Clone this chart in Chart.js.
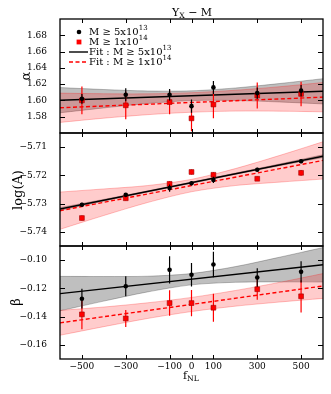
<!DOCTYPE html>
<html lang="es">
<head>
<meta charset="utf-8">
<title>Yx - M</title>
<script src="https://cdn.jsdelivr.net/npm/chart.js@4.4.1/dist/chart.umd.min.js"></script>
<style>
  body { margin: 0; background: #fff; }
  #lienzo { position: relative; width: 331px; height: 394px; overflow: hidden; }
  canvas { position: absolute; left: 0; }
</style>
</head>
<body>
<div id="lienzo">
  <canvas id="panel-alfa" width="331" height="145" style="top:0"></canvas>
  <canvas id="panel-loga" width="331" height="137" style="top:121px"></canvas>
  <canvas id="panel-beta" width="331" height="160" style="top:234px"></canvas>
</div>
<script>
const FUENTE = '"DejaVu Serif", "Liberation Serif", serif';
const NEGRO = "#000000";
const ROJO = "#ff0000";
const GRIS_BANDA = "rgba(0,0,0,0.25)";
const ROSA_BANDA = "rgba(255,0,0,0.2)";

// eje x compartido
const fNL = [-500, -300, -100, 0, 100, 300, 500];
const ticksX = [-500, -300, -100, 0, 100, 300, 500];
const xAjuste = [-600, 600];
const xBanda = [-600, -400, -200, 0, 200, 400, 600];

// panel alfa
const alfaNegro = [1.602, 1.607, 1.607, 1.593, 1.616, 1.609, 1.612];
const alfaNegroErr = [0.006, 0.008, 0.007, 0.008, 0.008, 0.007, 0.007];
const alfaRojo = [1.600, 1.594, 1.598, 1.578, 1.595, 1.606, 1.608];
const alfaRojoErr = [0.017, 0.017, 0.015, 0.016, 0.017, 0.016, 0.015];
const alfaAjusteNegro = [1.6003, 1.6112];
const alfaAjusteRojo = [1.591, 1.604];
const alfaBandaNegroAlta = [1.6158, 1.6134, 1.6116, 1.6118, 1.6153, 1.6207, 1.6267];
const alfaBandaNegroBaja = [1.5848, 1.5908, 1.5962, 1.5998, 1.5999, 1.5981, 1.5957];
const alfaBandaRojoAlta = [1.6090, 1.6082, 1.6081, 1.6095, 1.6125, 1.6168, 1.6220];
const alfaBandaRojoBaja = [1.5730, 1.5782, 1.5825, 1.5855, 1.5869, 1.5868, 1.5860];
const ticksAlfa = [1.58, 1.60, 1.62, 1.64, 1.66, 1.68];

// panel log(A)
const logANegro = [-5.7304, -5.7269, -5.7245, -5.7228, -5.7216, -5.7180, -5.7150];
const logANegroErr = [0.0007, 0.0007, 0.0013, 0.0008, 0.0011, 0.0007, 0.0007];
const logARojo = [-5.7351, -5.7281, -5.7230, -5.7188, -5.7198, -5.7212, -5.7191];
const logARojoErr = [0.0009, 0.0008, 0.0009, 0.0009, 0.0009, 0.0008, 0.0010];
const logAAjusteNegro = [-5.7319, -5.7132];
const logAAjusteRojo = [-5.7325, -5.7147];
const logABandaNegroAlta = [-5.7314, -5.7285, -5.7255, -5.7224, -5.7192, -5.7160, -5.7127];
const logABandaNegroBaja = [-5.7324, -5.7291, -5.7259, -5.7228, -5.7196, -5.7166, -5.7137];
const logABandaRojoAlta = [-5.7259, -5.7248, -5.7236, -5.7214, -5.7176, -5.7130, -5.7081];
const logABandaRojoBaja = [-5.7391, -5.7342, -5.7296, -5.7258, -5.7236, -5.7224, -5.7213];
const ticksLogA = [-5.71, -5.72, -5.73, -5.74];

// panel beta
const betaNegro = [-0.1273, -0.1185, -0.1069, -0.1104, -0.1031, -0.1123, -0.1083];
const betaNegroErr = [0.0070, 0.0070, 0.0097, 0.0083, 0.0090, 0.0066, 0.0075];
const betaRojo = [-0.1384, -0.1413, -0.1304, -0.1304, -0.1337, -0.1206, -0.1256];
const betaRojoErr = [0.0106, 0.0060, 0.0090, 0.0093, 0.0099, 0.0075, 0.0114];
const betaAjusteNegro = [-0.1237, -0.1033];
const betaAjusteRojo = [-0.1444, -0.1183];
const betaBandaNegroAlta = [-0.1115, -0.1116, -0.1114, -0.1095, -0.1046, -0.0980, -0.0911];
const betaBandaNegroBaja = [-0.1359, -0.1290, -0.1225, -0.1175, -0.1157, -0.1154, -0.1155];
const betaBandaRojoAlta = [-0.1356, -0.1332, -0.1302, -0.1264, -0.1215, -0.1158, -0.1095];
const betaBandaRojoBaja = [-0.1532, -0.1471, -0.1413, -0.1364, -0.1326, -0.1297, -0.1271];
const ticksBeta = [-0.10, -0.12, -0.14, -0.16];

const formatearTick = (decimales) => (valor) =>
  (valor < 0 ? "\u2212" : "") + Math.abs(valor).toFixed(decimales);

const puntos = (xs, ys) => xs.map((x, i) => ({ x, y: ys[i] }));

const barrasError = (valores, errores) =>
  fNL.flatMap((x, i) => [
    { x, y: valores[i] - errores[i] },
    { x, y: valores[i] + errores[i] },
    { x, y: null },
  ]);

// texto con sub/superindices: partes = [{ t, sup }, { t, sub }]
const medirRico = (ctx, partes, tam) =>
  partes.reduce((acc, p) => {
    ctx.font = `${p.sup || p.sub ? tam * 0.7 : tam}px ${FUENTE}`;
    return acc + ctx.measureText(p.t).width;
  }, 0);

const escribirRico = (ctx, partes, x, y, tam, centrado = false) => {
  let cx = centrado ? x - medirRico(ctx, partes, tam) / 2 : x;
  ctx.textAlign = "left";
  ctx.textBaseline = "middle";
  partes.forEach((p) => {
    const t = p.sup || p.sub ? tam * 0.7 : tam;
    const dy = p.sup ? -tam * 0.4 : p.sub ? tam * 0.3 : 0;
    ctx.font = `${t}px ${FUENTE}`;
    ctx.fillText(p.t, cx, y + dy);
    cx += ctx.measureText(p.t).width;
  });
};

const etiquetaVertical = (ctx, texto, x, y, tam) => {
  ctx.save();
  ctx.translate(x, y);
  ctx.rotate(-Math.PI / 2);
  ctx.font = `${tam}px ${FUENTE}`;
  ctx.fillStyle = NEGRO;
  ctx.textAlign = "center";
  ctx.textBaseline = "middle";
  ctx.fillText(texto, 0, 0);
  ctx.restore();
};

const pluginMarco = (ticksY) => ({
  id: "marco",
  afterDatasetsDraw(chart) {
    const { ctx, chartArea: a, scales } = chart;
    ctx.save();
    ctx.strokeStyle = NEGRO;
    ctx.lineWidth = 1;
    ctx.beginPath();
    ticksX.forEach((v) => {
      const px = Math.round(scales.x.getPixelForValue(v)) + 0.5;
      ctx.moveTo(px, a.top);
      ctx.lineTo(px, a.top + 4);
      ctx.moveTo(px, a.bottom);
      ctx.lineTo(px, a.bottom - 4);
    });
    ticksY.forEach((v) => {
      const py = Math.round(scales.y.getPixelForValue(v)) + 0.5;
      ctx.moveTo(a.left, py);
      ctx.lineTo(a.left + 5, py);
      ctx.moveTo(a.right, py);
      ctx.lineTo(a.right - 5, py);
    });
    ctx.stroke();
    ctx.lineWidth = 1.3;
    ctx.strokeRect(a.left, a.top, a.right - a.left, a.bottom - a.top);
    ctx.restore();
  },
});

// etiquetas del eje x bajo el panel inferior, en la posicion que da la escala
const etiquetasEjeX = (ctx, chart) => {
  const { chartArea: a, scales } = chart;
  const formato = formatearTick(0);
  ctx.save();
  ctx.fillStyle = NEGRO;
  ctx.font = `9px ${FUENTE}`;
  ctx.textAlign = "center";
  ctx.textBaseline = "middle";
  ticksX.forEach((v) => {
    ctx.fillText(formato(v), scales.x.getPixelForValue(v), a.bottom + 8);
  });
  ctx.restore();
};

const fuenteTicks = { family: FUENTE, size: 9 };

const crearPanel = ({
  id, negro, errNegro, rojo, errRojo, ajusteNegro, ajusteRojo,
  bandaNegro, bandaRojo, min, max, ticksY, decimales, relleno, textos,
}) => {
  const lienzo = document.getElementById(id);
  const banda = (valores, color, borde, fill, order) => ({
    data: puntos(xBanda, valores),
    fill,
    backgroundColor: color,
    borderColor: borde,
    borderWidth: 0.8,
    pointRadius: 0,
    tension: 0.3,
    order,
  });
  return new Chart(lienzo, {
    type: "line",
    data: {
      datasets: [
        banda(bandaNegro[0], GRIS_BANDA, "rgba(0,0,0,0.3)", "+1", 10),
        banda(bandaNegro[1], GRIS_BANDA, "rgba(0,0,0,0.3)", false, 10),
        banda(bandaRojo[0], ROSA_BANDA, "rgba(255,0,0,0.3)", "+1", 9),
        banda(bandaRojo[1], ROSA_BANDA, "rgba(255,0,0,0.3)", false, 9),
        {
          data: puntos(xAjuste, ajusteRojo),
          borderColor: ROJO,
          borderWidth: 1.4,
          borderDash: [4, 2.5],
          pointRadius: 0,
          fill: false,
          order: 6,
        },
        {
          data: puntos(xAjuste, ajusteNegro),
          borderColor: NEGRO,
          borderWidth: 1.4,
          pointRadius: 0,
          fill: false,
          order: 5,
        },
        {
          data: barrasError(rojo, errRojo),
          borderColor: ROJO,
          borderWidth: 1.2,
          pointRadius: 0,
          spanGaps: false,
          fill: false,
          order: 4,
        },
        {
          data: puntos(fNL, rojo),
          showLine: false,
          pointStyle: "rect",
          pointRadius: 3.4,
          pointBackgroundColor: ROJO,
          pointBorderColor: "#a00000",
          pointBorderWidth: 0.6,
          order: 3,
        },
        {
          data: barrasError(negro, errNegro),
          borderColor: NEGRO,
          borderWidth: 1.2,
          pointRadius: 0,
          spanGaps: false,
          fill: false,
          order: 2,
        },
        {
          data: puntos(fNL, negro),
          showLine: false,
          pointStyle: "circle",
          pointRadius: 2.3,
          pointBackgroundColor: NEGRO,
          pointBorderColor: NEGRO,
          pointBorderWidth: 0,
          order: 1,
        },
      ],
    },
    options: {
      responsive: false,
      animation: false,
      events: [],
      layout: { padding: relleno },
      plugins: { legend: { display: false }, tooltip: { enabled: false } },
      scales: {
        x: {
          type: "linear",
          min: -600,
          max: 600,
          display: false,
          afterFit: (s) => {
            s.height = 0;
          },
        },
        y: {
          type: "linear",
          min,
          max,
          afterBuildTicks: (s) => {
            s.ticks = ticksY.map((value) => ({ value }));
          },
          afterFit: (s) => {
            s.width = 60;
            s.paddingTop = 0;
            s.paddingBottom = 0;
          },
          grid: { display: false },
          border: { display: false },
          ticks: {
            font: fuenteTicks,
            color: NEGRO,
            padding: 5,
            callback: formatearTick(decimales),
          },
        },
      },
    },
    plugins: [
      pluginMarco(ticksY),
      { id: "textos", afterDraw: (chart) => textos(chart.ctx, chart) },
    ],
  });
};

const dibujarLeyenda = (ctx) => {
  const filas = [
    { y: 32, tipo: "circulo", texto: [{ t: "M \u2265 5x10" }, { t: "13", sup: true }] },
    { y: 42, tipo: "cuadrado", texto: [{ t: "M \u2265 1x10" }, { t: "14", sup: true }] },
    { y: 52, tipo: "linea", texto: [{ t: "Fit : M \u2265 5x10" }, { t: "13", sup: true }] },
    { y: 62, tipo: "guiones", texto: [{ t: "Fit : M \u2265 1x10" }, { t: "14", sup: true }] },
  ];
  ctx.save();
  filas.forEach((fila) => {
    if (fila.tipo === "circulo") {
      ctx.fillStyle = NEGRO;
      ctx.beginPath();
      ctx.arc(79, fila.y, 2.3, 0, Math.PI * 2);
      ctx.fill();
    } else if (fila.tipo === "cuadrado") {
      ctx.fillStyle = ROJO;
      ctx.fillRect(76.6, fila.y - 2.4, 4.8, 4.8);
    } else {
      ctx.strokeStyle = fila.tipo === "linea" ? NEGRO : ROJO;
      ctx.lineWidth = 1.4;
      ctx.setLineDash(fila.tipo === "linea" ? [] : [4, 2.5]);
      ctx.beginPath();
      ctx.moveTo(69, fila.y);
      ctx.lineTo(88, fila.y);
      ctx.stroke();
      ctx.setLineDash([]);
    }
    ctx.fillStyle = NEGRO;
    escribirRico(ctx, fila.texto, 89, fila.y, 10);
  });
  ctx.restore();
};

// los lienzos se solapan: cada area de datos queda a 12px del borde del lienzo
crearPanel({
  id: "panel-alfa",
  negro: alfaNegro,
  errNegro: alfaNegroErr,
  rojo: alfaRojo,
  errRojo: alfaRojoErr,
  ajusteNegro: alfaAjusteNegro,
  ajusteRojo: alfaAjusteRojo,
  bandaNegro: [alfaBandaNegroAlta, alfaBandaNegroBaja],
  bandaRojo: [alfaBandaRojoAlta, alfaBandaRojoBaja],
  min: 1.56,
  max: 1.70,
  ticksY: ticksAlfa,
  decimales: 2,
  relleno: { top: 19, bottom: 12, left: 0, right: 8 },
  textos: (ctx) => {
    ctx.save();
    ctx.fillStyle = NEGRO;
    escribirRico(ctx, [{ t: "Y" }, { t: "X", sub: true }, { t: " \u2212 M" }], 192, 13, 11, true);
    ctx.restore();
    etiquetaVertical(ctx, "\u03b1", 27, 76, 13);
    dibujarLeyenda(ctx);
  },
});

crearPanel({
  id: "panel-loga",
  negro: logANegro,
  errNegro: logANegroErr,
  rojo: logARojo,
  errRojo: logARojoErr,
  ajusteNegro: logAAjusteNegro,
  ajusteRojo: logAAjusteRojo,
  bandaNegro: [logABandaNegroAlta, logABandaNegroBaja],
  bandaRojo: [logABandaRojoAlta, logABandaRojoBaja],
  min: -5.745,
  max: -5.705,
  ticksY: ticksLogA,
  decimales: 2,
  relleno: { top: 12, bottom: 12, left: 0, right: 8 },
  textos: (ctx) => {
    etiquetaVertical(ctx, "log(A)", 19, 69, 13);
  },
});

crearPanel({
  id: "panel-beta",
  negro: betaNegro,
  errNegro: betaNegroErr,
  rojo: betaRojo,
  errRojo: betaRojoErr,
  ajusteNegro: betaAjusteNegro,
  ajusteRojo: betaAjusteRojo,
  bandaNegro: [betaBandaNegroAlta, betaBandaNegroBaja],
  bandaRojo: [betaBandaRojoAlta, betaBandaRojoBaja],
  min: -0.17,
  max: -0.09,
  ticksY: ticksBeta,
  decimales: 2,
  relleno: { top: 12, bottom: 35, left: 0, right: 8 },
  textos: (ctx, chart) => {
    etiquetasEjeX(ctx, chart);
    etiquetaVertical(ctx, "\u03b2", 17, 68, 13);
    ctx.save();
    ctx.fillStyle = NEGRO;
    escribirRico(ctx, [{ t: "f" }, { t: "NL", sub: true }], 191, 142, 11, true);
    ctx.restore();
  },
});
</script>
</body>
</html>
